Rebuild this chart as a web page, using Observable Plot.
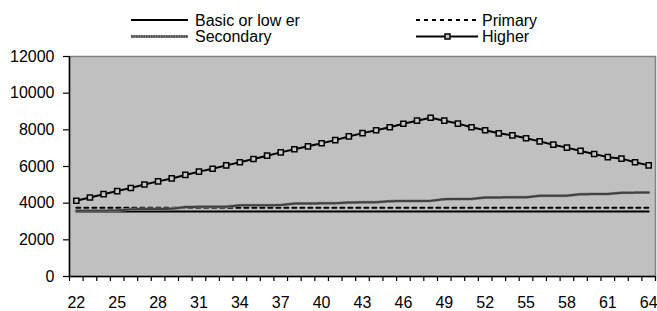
<!DOCTYPE html>
<html>
<head>
<meta charset="utf-8">
<script src="https://cdn.jsdelivr.net/npm/d3@7"></script>
<script src="https://cdn.jsdelivr.net/npm/@observablehq/plot@0.6"></script>
<style>
  html, body { margin: 0; padding: 0; background: #fff; }
  #wrap { width: 657px; font-family: Arial, "Liberation Sans", sans-serif; }
  #legend { display: block; }
</style>
</head>
<body>
<div id="wrap"></div>
<script>
// ---- data ----
const ages = [22,23,24,25,26,27,28,29,30,31,32,33,34,35,36,37,38,39,40,41,42,43,
              44,45,46,47,48,49,50,51,52,53,54,55,56,57,58,59,60,61,62,63,64];
const basic = [3550,3550,3550,3550,3550,3550,3550,3550,3550,3550,3550,3550,3550,3550,3550,
               3550,3550,3550,3550,3550,3550,3550,3550,3550,3550,3550,3550,3550,3550,3550,
               3550,3550,3550,3550,3550,3550,3550,3550,3550,3550,3550,3550,3550];
const primary = [3750,3750,3750,3750,3750,3750,3750,3750,3750,3750,3750,3750,3750,3750,3750,
                 3750,3750,3750,3750,3750,3750,3750,3750,3750,3750,3750,3750,3750,3750,3750,
                 3750,3750,3750,3750,3750,3750,3750,3750,3750,3750,3750,3750,3750];
const secondary = [3580,3585,3590,3600,3670,3680,3685,3690,3790,3800,3800,3805,3880,3885,3890,
                   3895,3980,3985,3990,3995,4040,4045,4050,4110,4115,4120,4125,4220,4225,4230,
                   4310,4315,4320,4320,4400,4405,4410,4490,4495,4500,4570,4575,4580];
const higher = [4130,4310,4490,4660,4830,5020,5190,5350,5540,5720,5880,6060,6230,6410,6590,
                6770,6940,7100,7270,7440,7640,7820,7980,8140,8330,8500,8660,8500,8340,8140,
                7975,7810,7700,7540,7370,7190,7030,6850,6680,6510,6430,6230,6060];
const yTicks = [0,2000,4000,6000,8000,10000,12000];
const xLabels = [22,25,28,31,34,37,40,43,46,49,52,55,58,61,64];
const seriesNames = ["Basic or low er", "Primary", "Secondary", "Higher"];

const font = 'Arial, "Liberation Sans", sans-serif';

// ---- legend (separate small svg above the chart) ----
const wrap = d3.select("#wrap");
const leg = wrap.append("svg").attr("id", "legend").attr("width", 657).attr("height", 45)
  .style("font-family", font).style("font-size", "16px");

function legendItem(g, kind) {
  if (kind === "basic") {
    g.append("line").attr("x1", 0).attr("x2", 57).attr("stroke", "#000").attr("stroke-width", 2);
  } else if (kind === "primary") {
    g.append("line").attr("x1", 0).attr("x2", 62).attr("stroke", "#000").attr("stroke-width", 2)
      .attr("stroke-dasharray", "4,4");
  } else if (kind === "secondary") {
    g.append("line").attr("x1", 0).attr("x2", 57).attr("stroke", "#8a8a8a").attr("stroke-width", 3);
    g.append("line").attr("x1", 0).attr("x2", 57).attr("stroke", "#404040").attr("stroke-width", 2)
      .attr("stroke-dasharray", "1.5,1");
  } else {
    g.append("line").attr("x1", 0).attr("x2", 62).attr("stroke", "#000").attr("stroke-width", 2);
    g.append("rect").attr("x", 29).attr("y", -2.5).attr("width", 5).attr("height", 5)
      .attr("fill", "#c8c8c8").attr("stroke", "#000").attr("stroke-width", 1.5);
  }
}
const legendLayout = [
  {name: seriesNames[0], kind: "basic", x: 131, y: 20, tx: 64},
  {name: seriesNames[1], kind: "primary", x: 416, y: 20, tx: 66},
  {name: seriesNames[2], kind: "secondary", x: 131, y: 36.5, tx: 64},
  {name: seriesNames[3], kind: "higher", x: 416, y: 36.5, tx: 66}
];
for (const it of legendLayout) {
  const g = leg.append("g").attr("transform", `translate(${it.x},${it.y})`);
  legendItem(g, it.kind);
  g.append("text").attr("x", it.tx).attr("dy", "0.35em").attr("fill", "#000").text(it.name);
}

// ---- chart ----
const boundaries = ages.map(a => a - 0.5).concat([ages[ages.length - 1] + 0.5]);

const chart = Plot.plot({
  width: 657,
  height: 266,
  marginLeft: 69,
  marginRight: 2,
  marginTop: 11,
  marginBottom: 35,
  style: {fontFamily: font, fontSize: "16px", background: "#fff", color: "#000", overflow: "visible"},
  x: {domain: [boundaries[0], boundaries[boundaries.length - 1]]},
  y: {domain: [0, 12000]},
  marks: [
    Plot.frame({fill: "#c0c0c0", stroke: "#808080", strokeWidth: 1.5}),
    Plot.axisY({ticks: yTicks, tickSize: 6, tickPadding: 9, tickFormat: d3.format("d"), label: null, strokeWidth: 1.2}),
    Plot.axisX({ticks: boundaries, tickSize: 5, tickFormat: () => "", label: null, strokeWidth: 1.2}),
    Plot.axisX({ticks: xLabels, tickSize: 0, tickPadding: 20, tickFormat: d3.format("d"), label: null}),
    Plot.ruleX([boundaries[0]], {stroke: "#000", strokeWidth: 1.5}),
    Plot.ruleY([0], {stroke: "#000", strokeWidth: 1.5}),
    Plot.lineY(basic, {x: ages, stroke: "#000", strokeWidth: 2}),
    Plot.lineY(primary, {x: ages, stroke: "#000", strokeWidth: 2, strokeDasharray: "4,4"}),
    Plot.lineY(secondary, {x: ages, stroke: "#8a8a8a", strokeWidth: 3}),
    Plot.lineY(secondary, {x: ages, stroke: "#404040", strokeWidth: 2, strokeDasharray: "1.5,1"}),
    Plot.lineY(higher, {x: ages, stroke: "#000", strokeWidth: 2}),
    Plot.dot(higher, {x: ages, y: d => d, symbol: "square", r: 2.9, fill: "#c8c8c8", stroke: "#000", strokeWidth: 1.5})
  ]
});
chart.style.display = "block";
document.getElementById("wrap").appendChild(chart);
</script>
</body>
</html>
